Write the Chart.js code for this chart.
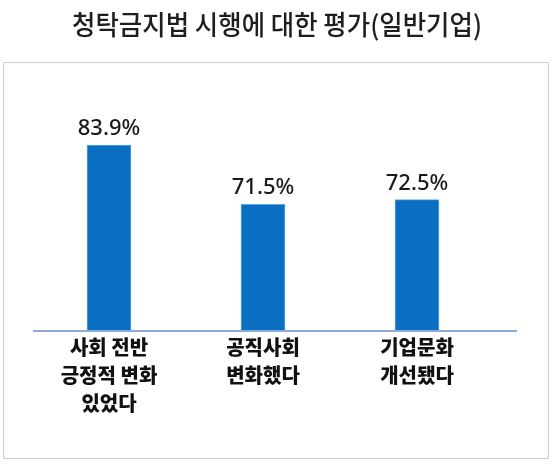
<!DOCTYPE html>
<html>
<head>
<meta charset="utf-8">
<script src="https://cdn.jsdelivr.net/npm/chart.js@4"></script>
<style>
html,body{margin:0;padding:0;background:#fff;}
#wrap{width:556px;height:464px;position:relative;}
</style>
</head>
<body>
<div id="wrap"><canvas id="c" width="556" height="464"></canvas></div>
<script>
const titleText = '청탁금지법 시행에 대한 평가(일반기업)';
const categories = [
  ['사회 전반', '긍정적 변화', '있었다'],
  ['공직사회', '변화했다'],
  ['기업문화', '개선됐다']
];
const values = [83.9, 71.5, 72.5];
const yMin = 45;
const yMax = 90;

const framePlugin = {
  id: 'frame',
  beforeDraw(chart) {
    const ctx = chart.ctx;
    ctx.save();
    ctx.fillStyle = '#fff';
    ctx.fillRect(0, 0, chart.width, chart.height);
    ctx.strokeStyle = '#9a9a9a';
    ctx.lineWidth = 1;
    ctx.setLineDash([1, 1]);
    ctx.strokeRect(3.5, 62.5, 545, 396);
    ctx.setLineDash([]);
    ctx.font = '500 27px "Noto Sans CJK KR"';
    ctx.fillStyle = '#1e1e1e';
    ctx.textBaseline = 'middle';
    ctx.textAlign = 'center';
    const w = ctx.measureText(titleText).width;
    const target = 410;
    const sx = Math.min(1, target / w);
    ctx.translate(277, 25);
    ctx.scale(sx, 1);
    ctx.fillText(titleText, 0, 0);
    ctx.restore();
  }
};

const axisLinePlugin = {
  id: 'axisLine',
  afterDatasetsDraw(chart) {
    const ctx = chart.ctx;
    const y = chart.scales.y.getPixelForValue(yMin);
    ctx.save();
    ctx.strokeStyle = '#8eaad6';
    ctx.lineWidth = 2;
    ctx.beginPath();
    ctx.moveTo(chart.chartArea.left + 1, y);
    ctx.lineTo(chart.chartArea.right + 23, y);
    ctx.stroke();
    const meta = chart.getDatasetMeta(0);
    ctx.font = '500 22px "Noto Sans"';
    ctx.fillStyle = '#1a1a1a';
    ctx.textAlign = 'center';
    ctx.textBaseline = 'alphabetic';
    meta.data.forEach((bar, i) => {
      ctx.fillText(values[i].toFixed(1) + '%', bar.x, bar.y - 10);
    });
    ctx.restore();
  }
};

new Chart(document.getElementById('c'), {
  type: 'bar',
  data: {
    labels: categories,
    datasets: [{
      data: values,
      backgroundColor: '#0a6ec2',
      borderColor: '#5fa7e6',
      borderWidth: 1,
      barThickness: 44
    }]
  },
  options: {
    responsive: false,
    animation: false,
    events: [],
    layout: { padding: { left: 32, right: 62, top: 116, bottom: 45 } },
    plugins: {
      legend: { display: false },
      title: { display: false },
      tooltip: { enabled: false }
    },
    scales: {
      x: {
        grid: { display: false, drawTicks: false },
        border: { display: false },
        ticks: {
          padding: 2,
          color: '#111',
          font: { family: '"Noto Sans CJK KR"', size: 20, weight: '900', lineHeight: 1.4 },
          maxRotation: 0,
          autoSkip: false
        }
      },
      y: {
        display: false,
        min: yMin,
        max: yMax
      }
    }
  },
  plugins: [framePlugin, axisLinePlugin]
});
</script>
</body>
</html>
